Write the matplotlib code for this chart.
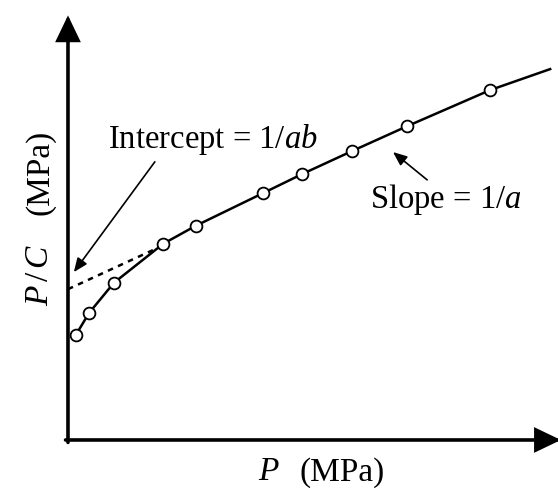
import matplotlib
matplotlib.use("Agg")
import matplotlib.pyplot as plt

plt.rcParams["mathtext.fontset"] = "custom"
plt.rcParams["mathtext.rm"] = "Liberation Serif"
plt.rcParams["mathtext.it"] = "Liberation Serif:italic"
plt.rcParams["font.family"] = ["Liberation Serif", "DejaVu Serif"]

# Measured isotherm points (P, P/C), arbitrary plotting units
pressure = [0.16, 0.43, 0.94, 1.95, 2.62, 4.00, 4.80, 5.82, 6.95, 8.65]
p_over_c = [2.15, 2.60, 3.22, 4.02, 4.39, 5.06, 5.45, 5.92, 6.43, 7.17]
# continuation of the fitted curve beyond the last point
tail_p = [9.88]
tail_pc = [7.60]

# Linear extrapolation of the high-pressure part back to P = 0
intercept = 3.09
slope = 0.46
extrap_end = 1.80

fig = plt.figure(figsize=(5.58, 4.90), dpi=100)
ax = fig.add_axes([0, 0, 1, 1])
ax.set_xlim(-1.393, 10.041)
ax.set_ylim(-1.025, 9.016)
ax.axis("off")

# Axes drawn as arrows
axis_arrow = dict(arrowstyle="-|>,head_length=0.75,head_width=0.36",
                  lw=2.6, color="black", shrinkA=0, shrinkB=0,
                  mutation_scale=20, joinstyle="miter")
ax.annotate("", xy=(0, 8.70), xytext=(0, -0.05), arrowprops=axis_arrow,
            annotation_clip=False)
ax.annotate("", xy=(10.10, 0), xytext=(-0.05, 0), arrowprops=axis_arrow,
            annotation_clip=False)

# Dashed extrapolation
ax.plot([0, extrap_end], [intercept, intercept + slope * extrap_end],
        ls=(0, (2.2, 2.2)), color="black", lw=1.8, zorder=2)

# Curve through the data
ax.plot(pressure + tail_p, p_over_c + tail_pc, color="black", lw=1.8,
        zorder=3, solid_joinstyle="round")
ax.plot(pressure, p_over_c, ls="none", marker="o", ms=8.5,
        mfc="white", mec="black", mew=1.3, zorder=4)

# Annotations
thin_arrow = dict(arrowstyle="-|>,head_length=0.6,head_width=0.25",
                  lw=1.2, color="black", shrinkA=0, shrinkB=0,
                  mutation_scale=14)
ax.text(2.96, 6.15, "Intercept = 1/$ab$", fontsize=23.5, ha="center", va="center")
ax.annotate("", xy=(0.12, 3.44), xytext=(1.78, 5.70), arrowprops=thin_arrow)

ax.text(7.74, 4.92, "Slope = 1/$a$", fontsize=23.5, ha="center", va="center")
ax.annotate("", xy=(6.66, 5.90), xytext=(7.36, 5.33), arrowprops=thin_arrow)

# Axis titles
ax.text(4.11, -0.66, "$P$", fontsize=24, ha="center", va="center")
ax.text(5.62, -0.66, "(MPa)", fontsize=24, ha="center", va="center")
ax.text(-0.58, 5.48, "(MPa)", fontsize=24, ha="center", va="center",
        rotation=90)
ax.text(-0.58, 3.38, "$P\\,/\\,C$", fontsize=24, ha="center", va="center",
        rotation=90)

fig.savefig("out.png", dpi=100)
